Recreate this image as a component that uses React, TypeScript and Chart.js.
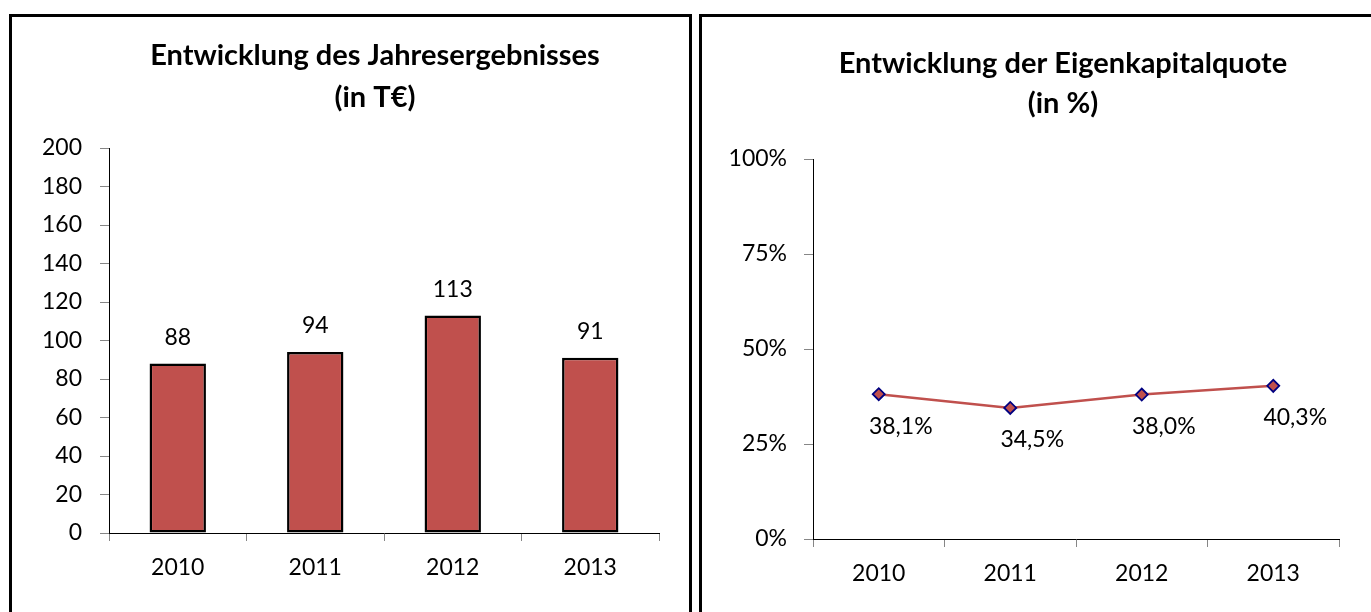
import React, { useEffect, useRef } from "react";
import { Chart, registerables } from "chart.js";

Chart.register(...registerables);

const years = ["2010", "2011", "2012", "2013"];
const jahresergebnis = [88, 94, 113, 91];
const eigenkapitalquote = [0.381, 0.345, 0.38, 0.403];
const leftTitle = ["Entwicklung des Jahresergebnisses", "(in T€)"];
const rightTitle = ["Entwicklung der Eigenkapitalquote", "(in %)"];

const FONT = "Lato";
const RED = "#C0504D";

const fmtPct = (v: number) => (v * 100).toFixed(1).replace(".", ",") + "%";

const titlePlugin = {
  id: "panelTitle",
  afterDraw(chart: any, _args: any, opts: any) {
    const ctx = chart.ctx;
    ctx.save();
    ctx.font = `bold ${opts.size}px ${FONT}`;
    ctx.fillStyle = "#000";
    ctx.textAlign = "center";
    ctx.textBaseline = "alphabetic";
    opts.lines.forEach((t: string, i: number) => {
      ctx.fillText(t, opts.x, opts.baselines[i]);
    });
    ctx.restore();
  },
};

const valueLabelPlugin = {
  id: "valueLabels",
  afterDatasetsDraw(chart: any, _args: any, opts: any) {
    const ctx = chart.ctx;
    const meta = chart.getDatasetMeta(0);
    const data = chart.data.datasets[0].data;
    ctx.save();
    ctx.font = `${opts.size}px ${FONT}`;
    ctx.fillStyle = "#000";
    ctx.textAlign = "center";
    ctx.textBaseline = "middle";
    meta.data.forEach((el: any, i: number) => {
      ctx.fillText(opts.format(data[i]), el.x + opts.dx, el.y + opts.dy);
    });
    ctx.restore();
  },
};

const tickFont = { family: FONT, size: 23 };

function BarPanel() {
  const ref = useRef<HTMLCanvasElement>(null);
  useEffect(() => {
    const chart = new Chart(ref.current!, {
      type: "bar",
      data: {
        labels: years,
        datasets: [
          {
            data: jahresergebnis,
            backgroundColor: RED,
            borderColor: "#000",
            borderWidth: 2.5,
            borderSkipped: false,
            barPercentage: 0.41,
            categoryPercentage: 1,
          },
        ],
      },
      options: {
        responsive: false,
        animation: false,
        layout: { padding: { top: 131, left: 0, right: 31, bottom: 0 } },
        plugins: {
          legend: { display: false },
          title: { display: false },
          tooltip: { enabled: false },
          panelTitle: { lines: leftTitle, x: 363, baselines: [48, 90], size: 29 },
          valueLabels: { size: 23, dx: 0, dy: -26, format: (v: number) => String(v) },
        } as any,
        scales: {
          x: {
            afterFit: (s: any) => { s.height = 79; },
            grid: { display: true, drawOnChartArea: false, drawTicks: true, tickLength: 8, color: "#868686", offset: true },
            border: { display: true, color: "#000", width: 1 },
            ticks: { font: tickFont, color: "#000", padding: 13 },
          },
          y: {
            min: 0,
            max: 200,
            afterFit: (s: any) => { s.width = 97; },
            grid: { display: true, drawOnChartArea: false, drawTicks: true, tickLength: 9, color: "#868686" },
            border: { display: true, color: "#000", width: 1 },
            ticks: { stepSize: 20, font: tickFont, color: "#000", padding: 18 },
          },
        },
      },
      plugins: [titlePlugin, valueLabelPlugin],
    });
    return () => chart.destroy();
  }, []);
  return (
    <canvas
      ref={ref}
      width={678}
      height={595}
      style={{ position: "absolute", left: 12, top: 17, width: 678, height: 595 }}
    />
  );
}

function LinePanel() {
  const ref = useRef<HTMLCanvasElement>(null);
  useEffect(() => {
    const chart = new Chart(ref.current!, {
      type: "line",
      data: {
        labels: years,
        datasets: [
          {
            data: eigenkapitalquote,
            borderColor: RED,
            borderWidth: 2.5,
            pointStyle: "rectRot",
            pointRadius: 6,
            pointBackgroundColor: RED,
            pointBorderColor: "#000080",
            pointBorderWidth: 1.8,
            tension: 0,
          },
        ],
      },
      options: {
        responsive: false,
        animation: false,
        layout: { padding: { top: 142, left: 0, right: 32, bottom: 0 } },
        plugins: {
          legend: { display: false },
          title: { display: false },
          tooltip: { enabled: false },
          panelTitle: { lines: rightTitle, x: 361, baselines: [56, 96], size: 29 },
          valueLabels: { size: 23, dx: 22, dy: 32, format: fmtPct },
        } as any,
        scales: {
          x: {
            offset: true,
            afterFit: (s: any) => { s.height = 73; },
            grid: { display: true, drawOnChartArea: false, drawTicks: true, tickLength: 8, color: "#868686", offset: true },
            border: { display: true, color: "#000", width: 1 },
            ticks: { font: tickFont, color: "#000", padding: 13 },
          },
          y: {
            min: 0,
            max: 1,
            afterFit: (s: any) => { s.width = 111; },
            grid: { display: true, drawOnChartArea: false, drawTicks: true, tickLength: 9, color: "#868686" },
            border: { display: true, color: "#000", width: 1 },
            ticks: {
              stepSize: 0.25,
              font: tickFont,
              color: "#000",
              padding: 17,
              callback: (v: any) => Math.round(Number(v) * 100) + "%",
            },
          },
        },
      },
      plugins: [titlePlugin, valueLabelPlugin],
    });
    return () => chart.destroy();
  }, []);
  return (
    <canvas
      ref={ref}
      width={669}
      height={595}
      style={{ position: "absolute", left: 702, top: 17, width: 669, height: 595 }}
    />
  );
}

export default function App() {
  return (
    <div
      style={{
        position: "absolute",
        left: 0,
        top: 0,
        width: 1371,
        height: 612,
        overflow: "hidden",
        background: "#fff",
      }}
    >
      <div
        style={{
          position: "absolute",
          left: 9,
          top: 14,
          width: 683,
          height: 640,
          border: "3px solid #000",
          boxSizing: "border-box",
        }}
      />
      <div
        style={{
          position: "absolute",
          left: 699,
          top: 14,
          width: 720,
          height: 640,
          border: "3px solid #000",
          boxSizing: "border-box",
        }}
      />
      <BarPanel />
      <LinePanel />
    </div>
  );
}
